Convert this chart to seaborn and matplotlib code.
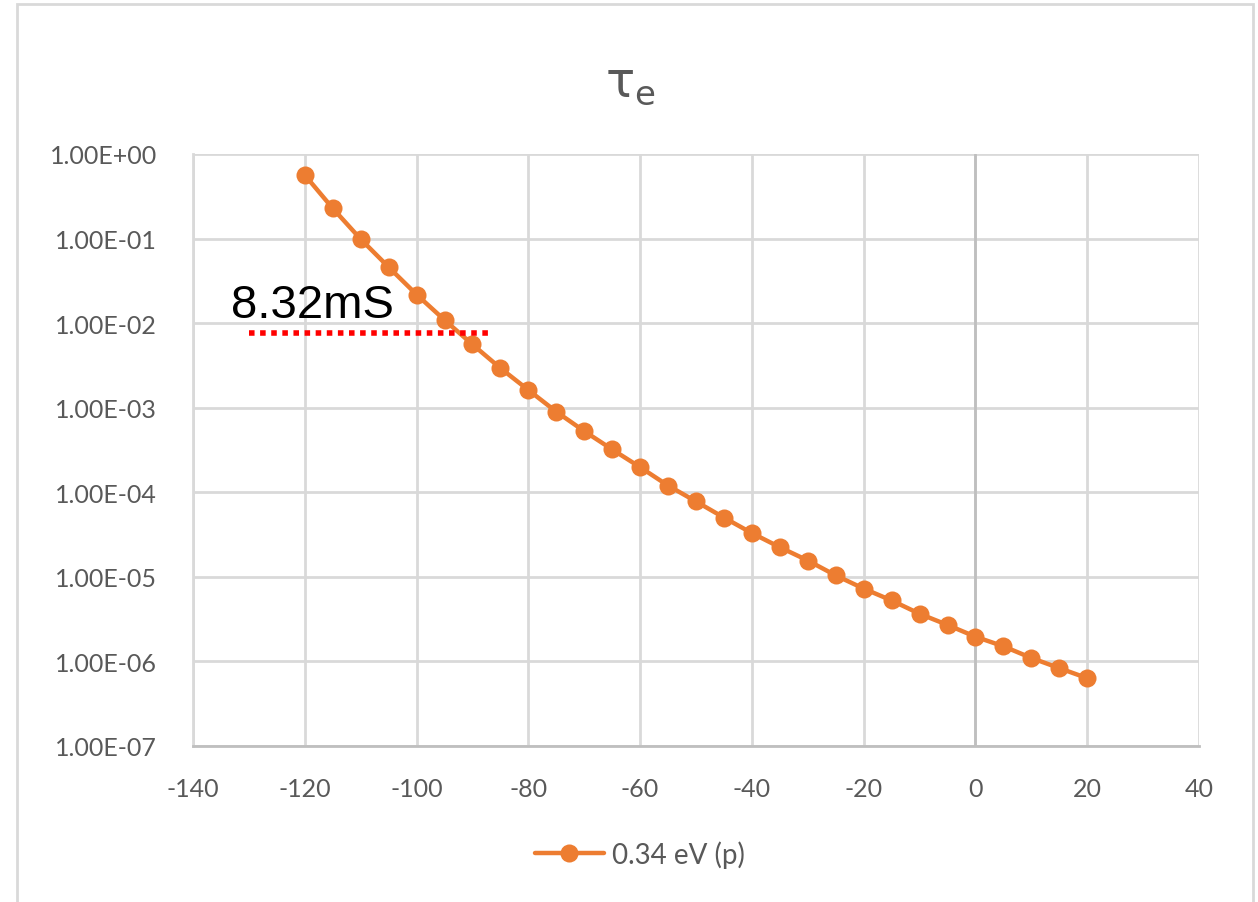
import matplotlib
matplotlib.use("Agg")
import matplotlib.pyplot as plt
import matplotlib.patches as mpatches
import pandas as pd
import seaborn as sns

# data
voltage = [-120, -115, -110, -105, -100, -95, -90, -85, -80, -75, -70, -65, -60,
           -55, -50, -45, -40, -35, -30, -25, -20, -15, -10, -5, 0, 5, 10, 15, 20]
tau_e = [0.564, 0.228, 0.0986, 0.0460, 0.0218, 0.0109, 0.0056, 0.00294, 0.00162,
         8.97e-4, 5.28e-4, 3.21e-4, 1.98e-4, 1.20e-4, 7.79e-5, 5.02e-5, 3.29e-5,
         2.24e-5, 1.56e-5, 1.04e-5, 7.26e-6, 5.26e-6, 3.66e-6, 2.70e-6, 1.96e-6,
         1.51e-6, 1.10e-6, 8.33e-7, 6.34e-7]
series_name = "0.34 eV (p)"
y_ticks = [1e0, 1e-1, 1e-2, 1e-3, 1e-4, 1e-5, 1e-6, 1e-7]
x_ticks = [-140, -120, -100, -80, -60, -40, -20, 0, 20, 40]
marker_value = 0.0076
marker_label = "8.32mS"
marker_x = [-130, -87]

df = pd.DataFrame({"V": voltage, "tau": tau_e, "series": series_name})

sns.set_theme(style="whitegrid")
plt.rcParams["font.family"] = ["Lato", "DejaVu Sans"]
plt.rcParams["mathtext.fontset"] = "dejavusans"

orange = "#ED7D31"
grey_txt = "#595959"
grid_c = "#d9d9d9"

fig = plt.figure(figsize=(12.58, 9.03), dpi=100)
ax = fig.add_axes([193 / 1258, 1 - 747 / 903, (1199 - 193) / 1258, (747 - 155) / 903])

sns.lineplot(data=df, x="V", y="tau", hue="series", palette=[orange], marker="o",
             markersize=13, markeredgewidth=0, linewidth=3.2, ax=ax, legend=False)

ax.set_yscale("log")
ax.set_ylim(1e-7, 1e0)
ax.set_xlim(-140, 40)
ax.set_xticks(x_ticks)
ax.set_xticklabels([str(v) for v in x_ticks])
ax.set_yticks(y_ticks)
ax.set_yticklabels([f"{v:.2E}" for v in y_ticks])
ax.yaxis.set_minor_locator(matplotlib.ticker.NullLocator())
ax.tick_params(axis="both", length=0, labelsize=18, colors=grey_txt)
ax.tick_params(axis="y", pad=26)
ax.tick_params(axis="x", pad=22)
ax.set_xlabel("")
ax.set_ylabel("")
ax.grid(True, color=grid_c, linewidth=2)
for side in ["top", "right"]:
    ax.spines[side].set_visible(False)
ax.spines["left"].set_color(grid_c)
ax.spines["left"].set_linewidth(2)
ax.spines["bottom"].set_color("#bfbfbf")
ax.spines["bottom"].set_linewidth(2)
ax.axvline(0, color="#bfbfbf", linewidth=2, zorder=1)

# annotation
ax.plot(marker_x, [marker_value, marker_value], color="red", linestyle=(0, (1, 1)),
        linewidth=4, zorder=3)
ax.text(-133.2, 0.0118, marker_label, fontsize=34, color="black",
        family=["Liberation Sans", "DejaVu Sans"], ha="left", va="baseline", zorder=4)

fig.text(630 / 1258, 1 - 85 / 903, r"$\mathrm{\tau}_\mathrm{e}$", fontsize=35, color=grey_txt,
         ha="center", va="center")

handle = matplotlib.lines.Line2D([], [], color=orange, marker="o", markersize=13,
                                 markeredgewidth=0, linewidth=3.2)
fig.legend([handle], [series_name], loc="center", bbox_to_anchor=(640 / 1258, 1 - 855 / 903),
           frameon=False, fontsize=20, labelcolor=grey_txt, handlelength=2.5,
           handletextpad=0.3)

border = mpatches.Rectangle((17 / 1258, -0.02), 1236 / 1258, 1 - 5 / 903 + 0.02,
                            transform=fig.transFigure, fill=False, edgecolor=grid_c,
                            linewidth=2)
fig.patches.append(border)

fig.savefig("out.png", dpi=100)
